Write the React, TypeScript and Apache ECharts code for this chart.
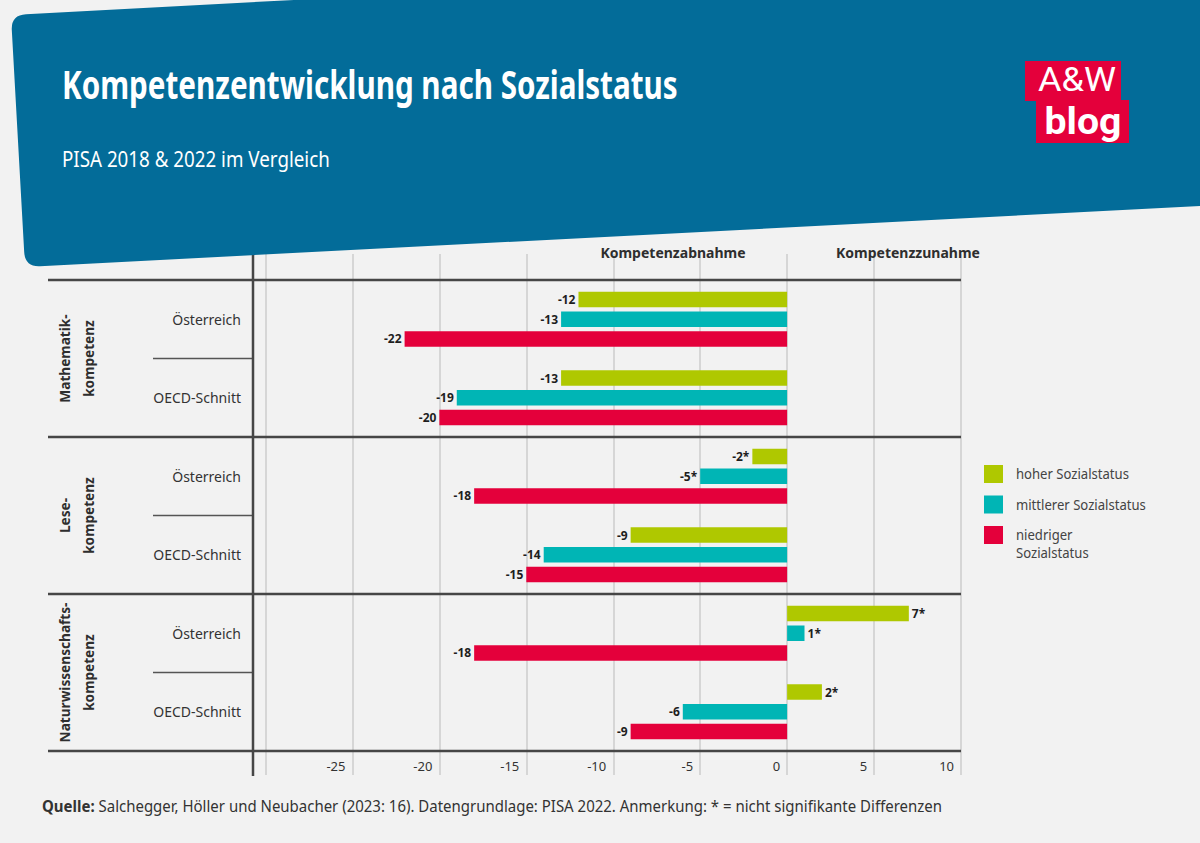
import React, { useEffect, useRef } from 'react';
import * as echarts from 'echarts';

const titleText = 'Kompetenzentwicklung nach Sozialstatus';
const subtitleText = 'PISA 2018 & 2022 im Vergleich';
const sourceLabel = 'Quelle:';
const sourceText = ' Salchegger, Höller und Neubacher (2023: 16). Datengrundlage: PISA 2022. Anmerkung: * = nicht signifikante Differenzen';
const headers = ['Kompetenzabnahme', 'Kompetenzzunahme'];
const groups = ['Mathematik-\nkompetenz', 'Lese-\nkompetenz', 'Naturwissenschafts-\nkompetenz'];
const categories = ['Österreich', 'OECD-Schnitt', 'Österreich', 'OECD-Schnitt', 'Österreich', 'OECD-Schnitt'];
const seriesNames = ['hoher Sozialstatus', 'mittlerer Sozialstatus', 'niedriger\nSozialstatus'];
const seriesColors = ['#afc800', '#00b5b5', '#e4003b'];

const hoher = [-12, -13, -2, -9, 7, 2];
const mittlerer = [-13, -19, -5, -14, 1, -6];
const niedriger = [-22, -20, -18, -15, -18, -9];
// true = nicht signifikant (*)
const hoherNS = [false, false, true, false, true, true];
const mittlererNS = [false, false, true, false, true, false];
const niedrigerNS = [false, false, false, false, false, false];

const xMin = -30;
const xMax = 10;
const xStep = 5;

const FONT = "'Noto Sans', 'Open Sans', sans-serif";
const LOGO_FONT = "Roboto, 'Noto Sans', sans-serif";
const BLUE = '#036c99';
const RED = '#e4003b';
const DARK = '#2e2e2e';
const LINE = '#464646';

const bannerPath =
  'M11.8,30 Q11,15 26,14.2 L294,0 L1200,0 L1200,206 L40,266.2 Q25,267 24.2,252 Z';
echarts.graphic.registerShape('banner', echarts.graphic.extendPath(bannerPath, {}));

function measure(text: string, font: string): number {
  const c = document.createElement('canvas').getContext('2d');
  if (!c) return text.length * 8;
  c.font = font;
  return c.measureText(text).width;
}

export default function App() {
  const ref = useRef<HTMLDivElement>(null);

  useEffect(() => {
    if (!ref.current) return;
    const chart = echarts.init(ref.current, undefined, { renderer: 'svg' });

    const W = 1200;
    const H = 843;
    const gridLeft = 265.5;
    const gridRightX = 961;
    const gridTop = 280;
    const gridBottomY = 751;
    const band = (gridBottomY - gridTop) / categories.length;

    const titleScale = 616 / measure(titleText, `bold 39px ${FONT}`);
    const subScale = 268 / measure(subtitleText, `21px ${FONT}`);
    const srcScale =
      901 / (measure(sourceLabel, `bold 15.5px ${FONT}`) + measure(sourceText, `15.5px ${FONT}`));
    const legScale = 130 / measure('mittlerer Sozialstatus', `14px ${FONT}`);
    const grpScale = 140 / measure('Naturwissenschafts-', `bold 15px ${FONT}`);
    const awScale = 78 / measure('A&W', `34px ${LOGO_FONT}`);
    const blogScale = 77 / measure('blog', `bold 37px ${LOGO_FONT}`);

    const graphics: any[] = [];
    graphics.push({ type: 'banner', x: 0, y: 0, z: 100, style: { fill: BLUE } });
    graphics.push({
      type: 'text', x: 62, y: 84, z: 101, scaleX: titleScale,
      style: { text: titleText, fill: '#fff', font: `bold 39px ${FONT}`, align: 'left', verticalAlign: 'middle' },
    });
    graphics.push({
      type: 'text', x: 62, y: 159.5, z: 101, scaleX: subScale,
      style: { text: subtitleText, fill: '#fff', font: `21px ${FONT}`, align: 'left', verticalAlign: 'middle' },
    });
    // logo
    graphics.push({ type: 'rect', z: 101, shape: { x: 1025, y: 61, width: 96, height: 40 }, style: { fill: RED } });
    graphics.push({ type: 'rect', z: 101, shape: { x: 1036, y: 100, width: 93, height: 43 }, style: { fill: RED } });
    graphics.push({
      type: 'text', x: 1077, y: 79, z: 102, scaleX: awScale,
      style: {
        text: 'A&W', fill: '#fff', font: `34px ${LOGO_FONT}`, lineHeight: 30,
        align: 'center', verticalAlign: 'middle',
      },
    });
    graphics.push({
      type: 'text', x: 1083, y: 121.5, z: 102, scaleX: blogScale,
      style: {
        text: 'blog', fill: '#fff', font: `bold 37px ${LOGO_FONT}`, lineHeight: 34,
        align: 'center', verticalAlign: 'middle',
      },
    });

    // headers
    [673, 908].forEach((cx, i) => {
      graphics.push({
        type: 'text', x: cx, y: 252.5, z: 50,
        style: { text: headers[i], fill: DARK, font: `bold 14px ${FONT}`, align: 'center', verticalAlign: 'middle' },
      });
    });

    // table lines
    for (let k = 0; k <= groups.length; k++) {
      const y = gridTop + k * 2 * band;
      graphics.push({
        type: 'line', z: 40, shape: { x1: 48, y1: y, x2: gridRightX, y2: y },
        style: { stroke: LINE, lineWidth: 2.5 },
      });
    }
    for (let k = 0; k < groups.length; k++) {
      const y = gridTop + (2 * k + 1) * band;
      graphics.push({
        type: 'line', z: 40, shape: { x1: 153, y1: y, x2: 253, y2: y },
        style: { stroke: '#555', lineWidth: 1.5 },
      });
      graphics.push({
        type: 'text', x: 76, y: gridTop + (2 * k + 1) * band, z: 41, rotation: Math.PI / 2, scaleX: grpScale,
        style: {
          text: groups[k], fill: DARK, font: `bold 15px ${FONT}`, lineHeight: 24,
          align: 'center', verticalAlign: 'middle',
        },
      });
    }
    graphics.push({
      type: 'line', z: 40, shape: { x1: 253, y1: 254, x2: 253, y2: 776 },
      style: { stroke: LINE, lineWidth: 2.5 },
    });

    // legend
    seriesNames.forEach((name, i) => {
      const y = 465 + i * 30.5;
      graphics.push({ type: 'rect', z: 40, shape: { x: 984, y, width: 19, height: 18 }, style: { fill: seriesColors[i] } });
      graphics.push({
        type: 'text', x: 1016, y, z: 40, scaleX: legScale,
        style: { text: name, fill: '#444', font: `14px ${FONT}`, lineHeight: 18, align: 'left', verticalAlign: 'top' },
      });
    });

    // source
    graphics.push({
      type: 'text', x: 42, y: 806, z: 40, scaleX: srcScale,
      style: {
        text: `{b|${sourceLabel}}{r|${sourceText}}`,
        align: 'left', verticalAlign: 'middle',
        rich: {
          b: { font: `bold 15.5px ${FONT}`, fill: '#333' },
          r: { font: `15.5px ${FONT}`, fill: '#333' },
        },
      },
    });

    const mkSeries = (name: string, values: number[], ns: boolean[], color: string) => ({
      type: 'bar',
      name,
      xAxisIndex: 0,
      yAxisIndex: 0,
      barWidth: 15.5,
      barGap: '27%',
      itemStyle: { color },
      data: values.map((v) => ({ value: v, label: { position: v < 0 ? 'left' : 'right' } })),
      label: {
        show: true,
        distance: 3,
        color: '#1e1e1e',
        fontFamily: FONT,
        fontWeight: 'bold',
        fontSize: 12,
        formatter: (p: any) => `${p.value}${ns[p.dataIndex] ? '*' : ''}`,
      },
    });

    chart.setOption({
      animation: false,
      backgroundColor: '#f2f2f2',
      textStyle: { fontFamily: FONT },
      grid: [
        { left: gridLeft, right: W - gridRightX, top: gridTop, bottom: H - gridBottomY },
        { left: gridLeft, right: W - gridRightX, top: 254, bottom: H - 775 },
      ],
      xAxis: [
        {
          type: 'value', gridIndex: 0, min: xMin, max: xMax, interval: xStep,
          axisLine: { show: false }, axisTick: { show: false }, splitLine: { show: false },
          axisLabel: {
            showMinLabel: false, align: 'right', padding: [0, 7, 0, 0], margin: 8,
            fontSize: 13, color: '#333', fontFamily: FONT,
          },
        },
        {
          type: 'value', gridIndex: 1, min: xMin, max: xMax, interval: xStep,
          axisLine: { show: false }, axisTick: { show: false }, axisLabel: { show: false },
          splitLine: { show: true, lineStyle: { color: '#cdcdcd', width: 1.5 } },
        },
      ],
      yAxis: [
        {
          type: 'category', gridIndex: 0, data: categories, inverse: true,
          axisLine: { show: false }, axisTick: { show: false }, splitLine: { show: false },
          axisLabel: { margin: 24.5, fontSize: 14, color: '#333', fontFamily: FONT },
        },
        { type: 'value', gridIndex: 1, show: false, min: 0, max: 1 },
      ],
      series: [
        mkSeries(seriesNames[0], hoher, hoherNS, seriesColors[0]),
        mkSeries(seriesNames[1], mittlerer, mittlererNS, seriesColors[1]),
        mkSeries(seriesNames[2], niedriger, niedrigerNS, seriesColors[2]),
      ],
      graphic: { elements: graphics },
    });

    return () => chart.dispose();
  }, []);

  return (
    <div
      ref={ref}
      style={{ position: 'fixed', left: 0, top: 0, width: 1200, height: 843, background: '#f2f2f2' }}
    />
  );
}
